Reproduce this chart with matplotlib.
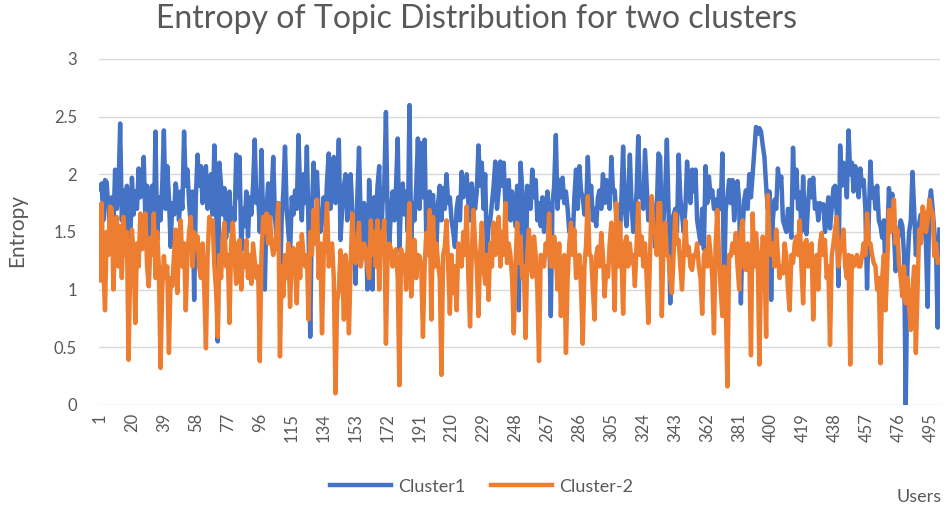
import numpy as np
import matplotlib
matplotlib.use('Agg')
import matplotlib.pyplot as plt

# entropy per user (users 1..500)
cluster1 = [
    1.87, 1.92, 1.6, 1.95, 1.93, 1.7, 1.5, 1.8, 1.55, 2.04,
    1.7, 1.85, 2.44, 1.6, 1.86, 1.4, 1.9, 1.75, 1.38, 1.97,
    1.65, 1.85, 1.7, 2.05, 1.8, 1.9, 2.15, 1.6, 1.9, 1.03,
    1.75, 1.9, 1.5, 2.37, 1.43, 1.8, 1.6, 1.9, 2.38, 1.7,
    2.07, 1.8, 1.37, 1.75, 1.65, 1.92, 1.8, 1.6, 1.85, 1.7,
    2.37, 1.9, 2.04, 1.75, 1.55, 1.85, 0.91, 1.8, 2.17, 1.9,
    2.07, 1.75, 1.95, 2.07, 1.7, 1.9, 2.0, 1.65, 2.25, 1.85,
    0.55, 2.1, 1.9, 1.65, 1.88, 1.45, 1.75, 1.85, 1.5, 1.7,
    1.6, 2.17, 1.8, 2.15, 1.34, 1.7, 1.55, 1.85, 1.46, 1.8,
    1.65, 1.9, 2.3, 1.75, 1.86, 1.5, 2.21, 1.6, 1.0, 1.7,
    1.92, 1.55, 1.8, 2.15, 1.65, 1.43, 1.75, 1.0, 1.6, 1.85,
    2.24, 1.7, 1.5, 1.29, 1.8, 1.65, 1.86, 1.7, 2.34, 1.85,
    1.6, 2.0, 1.75, 2.24, 1.5, 0.59, 1.7, 2.1, 1.8, 2.02,
    1.65, 1.5, 1.58, 1.8, 1.6, 1.95, 2.18, 1.7, 1.9, 2.15,
    1.75, 1.85, 2.3, 1.43, 1.7, 1.9, 2.0, 1.6, 1.85, 2.0,
    1.7, 1.5, 1.05, 1.8, 2.23, 1.6, 1.29, 1.75, 1.55, 1.0,
    1.95, 1.65, 1.0, 1.8, 1.6, 1.9, 2.07, 1.34, 1.75, 1.9,
    2.54, 1.6, 1.37, 1.7, 1.85, 1.6, 1.9, 2.31, 1.34, 1.8,
    1.92, 1.65, 1.85, 1.5, 2.6, 1.43, 1.75, 1.6, 1.9, 2.31,
    1.7, 2.27, 1.8, 2.3, 1.43, 1.6, 1.85, 1.7, 1.82, 1.55,
    1.37, 1.75, 1.9, 1.6, 1.88, 1.7, 2.0, 1.75, 1.8, 1.6,
    1.5, 1.37, 1.7, 1.8, 1.6, 2.02, 1.8, 1.9, 2.0, 1.75,
    1.6, 1.92, 1.8, 1.7, 1.85, 2.25, 1.9, 2.1, 1.7, 2.0,
    1.29, 1.55, 1.6, 1.75, 1.9, 2.11, 1.7, 1.85, 2.11, 1.9,
    2.1, 1.75, 1.8, 1.95, 1.6, 1.85, 1.7, 1.55, 1.9, 0.82,
    2.1, 1.88, 1.7, 0.8, 1.9, 1.85, 1.7, 2.04, 1.8, 1.95,
    1.6, 1.75, 1.55, 1.8, 1.5, 1.7, 1.85, 1.6, 0.77, 1.75,
    1.9, 2.34, 1.7, 1.95, 1.8, 1.97, 1.75, 1.85, 1.7, 1.5,
    1.6, 1.4, 1.8, 2.04, 1.7, 2.07, 1.85, 1.8, 1.65, 1.7,
    2.15, 1.75, 1.9, 1.6, 1.7, 1.55, 1.8, 1.86, 1.7, 2.0,
    1.75, 1.95, 1.8, 1.7, 2.15, 1.85, 1.86, 1.6, 1.5, 1.43,
    1.8, 2.24, 1.7, 1.55, 1.8, 2.17, 1.75, 1.5, 1.6, 1.85,
    2.33, 1.8, 1.86, 1.7, 2.21, 1.9, 1.6, 1.75, 1.8, 1.6,
    1.37, 1.7, 2.18, 2.15, 1.5, 1.6, 1.85, 2.3, 1.7, 0.88,
    1.6, 1.65, 1.7, 1.5, 2.17, 1.8, 1.65, 1.5, 1.7, 2.11,
    1.9, 1.75, 2.04, 1.85, 2.04, 1.6, 1.5, 1.4, 1.7, 1.35,
    2.07, 1.75, 1.98, 1.8, 1.86, 1.7, 1.78, 1.6, 1.86, 1.7,
    2.18, 0.94, 1.7, 1.8, 1.95, 1.75, 1.95, 1.6, 1.8, 1.94,
    1.75, 0.88, 1.5, 1.78, 1.86, 1.7, 2.0, 1.8, 2.0, 2.2,
    2.41, 2.35, 2.4, 2.37, 2.25, 2.15, 1.9, 1.7, 1.85, 0.91,
    1.6, 1.78, 1.7, 2.05, 1.9, 1.98, 1.6, 1.55, 1.5, 1.7,
    1.6, 1.45, 2.23, 1.8, 2.04, 1.7, 1.84, 1.5, 1.98, 1.6,
    1.48, 1.75, 1.95, 1.8, 1.97, 1.7, 1.75, 1.6, 1.75, 1.7,
    1.74, 1.5, 1.65, 1.8, 1.53, 1.7, 1.88, 1.9, 1.65, 1.03,
    2.25, 1.9, 2.1, 2.0, 1.8, 2.38, 2.0, 2.1, 1.85, 2.07,
    2.0, 1.8, 2.05, 1.9, 1.95, 1.7, 1.01, 1.6, 2.11, 1.8,
    1.88, 1.7, 1.9, 1.6, 1.55, 1.45, 1.6, 1.1, 1.4, 1.88,
    1.7, 1.83, 1.5, 1.16, 1.4, 1.5, 1.6, 1.55, 1.3, 0.0,
    1.2, 1.5, 1.6, 2.02, 1.7, 1.3, 1.4, 1.58, 1.65, 1.5,
    1.62, 1.4, 0.85, 1.75, 1.86, 1.7, 1.5, 1.35, 0.67, 1.52,
]

cluster2 = [
    1.08, 1.75, 1.2, 0.82, 1.5, 1.3, 1.72, 1.7, 1.0, 1.45,
    1.63, 1.2, 1.55, 1.1, 1.63, 1.3, 1.5, 0.39, 1.2, 1.52,
    1.3, 0.71, 1.4, 1.2, 1.66, 1.35, 1.5, 1.66, 1.2, 1.03,
    1.45, 1.3, 1.66, 1.1, 1.5, 1.2, 0.32, 1.0, 1.29, 1.1,
    1.2, 0.45, 1.1, 1.03, 1.3, 1.52, 0.97, 1.4, 1.6, 1.2,
    1.4, 0.82, 1.3, 1.5, 1.63, 1.2, 1.5, 1.35, 1.46, 1.2,
    1.1, 1.4, 1.0, 0.49, 1.3, 1.63, 1.5, 1.6, 1.2, 1.0,
    0.59, 1.3, 1.1, 1.45, 1.58, 1.2, 1.3, 0.71, 1.4, 1.58,
    1.3, 1.05, 1.4, 1.43, 1.0, 1.3, 1.2, 1.43, 1.1, 1.3,
    1.05, 1.4, 1.25, 1.1, 1.2, 0.38, 1.3, 1.63, 1.5, 1.66,
    1.4, 1.63, 1.4, 1.3, 1.36, 1.5, 1.75, 0.42, 1.2, 0.94,
    1.3, 1.1, 1.4, 0.85, 1.3, 1.36, 1.2, 0.88, 1.4, 1.1,
    1.48, 1.3, 1.2, 1.3, 0.74, 1.5, 1.3, 1.69, 1.4, 1.78,
    1.1, 1.4, 0.62, 1.3, 1.5, 1.75, 1.2, 1.3, 1.4, 1.1,
    0.10, 0.9, 1.0, 1.34, 1.2, 0.74, 1.3, 1.1, 0.62, 1.2,
    1.66, 1.3, 1.23, 1.4, 1.58, 1.2, 1.3, 1.4, 1.35, 1.2,
    1.1, 1.6, 1.3, 1.5, 1.2, 1.6, 1.0, 1.5, 1.4, 1.6,
    0.53, 1.3, 1.4, 1.35, 1.2, 1.3, 1.35, 1.1, 0.17, 1.35,
    1.2, 1.3, 1.0, 1.4, 1.75, 0.94, 1.2, 1.43, 1.1, 1.3,
    1.29, 1.2, 0.59, 1.2, 1.49, 1.3, 1.69, 0.74, 1.63, 1.2,
    1.4, 1.23, 1.1, 0.26, 1.3, 1.37, 1.6, 1.2, 0.79, 1.3,
    0.97, 1.2, 0.82, 1.4, 1.34, 1.2, 1.5, 1.3, 1.72, 1.1,
    0.68, 1.3, 1.69, 1.4, 1.2, 0.77, 1.3, 1.58, 1.2, 1.05,
    1.3, 0.91, 1.4, 1.2, 1.58, 1.3, 1.4, 1.63, 1.2, 1.5,
    1.3, 1.75, 1.23, 1.4, 1.3, 1.1, 0.62, 1.2, 1.58, 1.23,
    1.46, 1.1, 1.2, 0.58, 1.3, 1.52, 1.2, 1.11, 1.46, 1.3,
    1.0, 0.38, 1.3, 1.29, 1.2, 1.4, 1.3, 1.66, 1.2, 1.2,
    1.46, 1.3, 1.0, 1.4, 0.77, 1.2, 1.3, 0.45, 1.1, 1.4,
    1.58, 1.3, 1.52, 1.1, 1.13, 1.3, 1.0, 0.53, 1.2, 1.4,
    1.81, 1.3, 1.29, 1.0, 0.74, 1.3, 1.37, 1.2, 1.49, 1.3,
    0.94, 1.2, 1.11, 1.4, 1.58, 1.3, 0.82, 1.75, 1.2, 1.58,
    1.3, 0.79, 1.4, 1.46, 1.2, 1.4, 1.23, 1.3, 1.03, 1.4,
    1.75, 1.3, 1.46, 1.2, 1.4, 1.1, 0.71, 1.3, 1.81, 1.5,
    1.52, 1.3, 1.75, 1.75, 0.77, 1.4, 1.58, 1.3, 1.29, 1.1,
    0.97, 1.3, 1.66, 1.4, 1.43, 1.2, 1.0, 1.3, 1.6, 1.3,
    1.37, 1.2, 1.17, 1.3, 1.29, 1.4, 1.2, 1.1, 0.79, 1.3,
    1.34, 1.2, 1.46, 1.3, 1.1, 0.62, 1.4, 1.69, 1.3, 1.0,
    0.77, 1.2, 0.9, 0.16, 1.3, 1.29, 1.4, 1.32, 1.49, 1.2,
    1.0, 1.5, 1.6, 1.2, 1.17, 1.4, 1.3, 0.43, 1.66, 1.2,
    1.49, 1.3, 0.35, 1.2, 1.46, 1.3, 0.59, 1.82, 1.4, 1.3,
    1.4, 1.2, 1.52, 1.3, 1.1, 1.2, 1.14, 1.4, 1.29, 1.0,
    0.82, 1.3, 1.23, 1.4, 1.46, 1.3, 1.6, 1.2, 0.88, 1.4,
    1.43, 1.2, 1.23, 1.4, 0.74, 1.23, 1.3, 1.0, 1.4, 1.49,
    1.3, 1.43, 1.1, 1.2, 0.52, 1.29, 1.4, 1.52, 1.63, 1.2,
    1.34, 1.4, 1.52, 1.2, 1.1, 1.3, 0.35, 1.29, 1.2, 1.23,
    1.3, 1.2, 1.2, 1.29, 1.4, 1.3, 1.66, 1.4, 1.4, 1.3,
    1.23, 1.2, 1.0, 1.1, 0.36, 1.1, 1.3, 0.82, 1.2, 1.69,
    1.5, 1.6, 1.78, 1.4, 1.52, 1.23, 1.1, 0.94, 1.2, 0.88,
    1.1, 0.85, 0.65, 1.0, 1.2, 0.45, 1.0, 1.52, 1.4, 1.72,
    1.66, 1.5, 1.6, 1.78, 1.7, 1.66, 1.29, 1.4, 1.23, 1.25,
]

users = np.arange(1, len(cluster1) + 1)
tick_users = list(range(1, len(users) + 1, 19))

plt.rcParams['font.family'] = ['Lato', 'DejaVu Sans']
grey = '#595959'

fig = plt.figure(figsize=(9.44, 5.08), dpi=100)
ax = fig.add_axes([0.105, 0.203, 0.891, 0.681])

ax.plot(users, cluster1, color='#4472C4', lw=3.2, label='Cluster1',
        solid_joinstyle='round')
ax.plot(users, cluster2, color='#ED7D31', lw=3.2, label='Cluster-2',
        solid_joinstyle='round')

ax.set_xlim(0.5, len(users) + 0.5)
ax.set_ylim(0, 3)
ax.set_yticks(np.arange(0, 3.01, 0.5))
ax.set_yticklabels(['0', '0.5', '1', '1.5', '2', '2.5', '3'])
ax.set_xticks(tick_users)
ax.set_xticklabels([str(t) for t in tick_users], rotation=90)
ax.tick_params(axis='both', length=0, colors=grey, labelsize=12)
ax.tick_params(axis='y', pad=16)
ax.tick_params(axis='x', pad=6)
ax.grid(axis='y', color='#d9d9d9', lw=1)
ax.set_axisbelow(True)
for s in ax.spines.values():
    s.set_visible(False)

fig.text(0.505, 0.962, 'Entropy of Topic Distribution for two clusters',
         ha='center', va='center', fontsize=23, color=grey)
fig.text(0.018, 0.547, 'Entropy', rotation=90, ha='center', va='center',
         fontsize=15, color=grey)
fig.text(0.997, 0.022, 'Users', ha='right', va='center', fontsize=13,
         color=grey)

leg = fig.legend(loc='center', bbox_to_anchor=(0.51, 0.042), ncol=2,
                 frameon=False, fontsize=13, handlelength=3.4,
                 columnspacing=1.4, handletextpad=0.4)
for t in leg.get_texts():
    t.set_color(grey)

fig.savefig('out.png', dpi=100)
